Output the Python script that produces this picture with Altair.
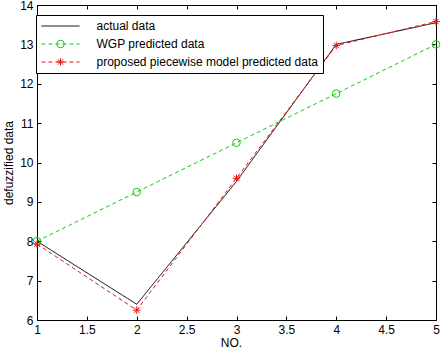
import altair as alt
import pandas as pd

# ---- data ----
nos = [1, 2, 3, 4, 5]
actual = [8.0, 6.4, 9.52, 13.0, 13.55]
wgp = [8.0, 9.25, 10.5, 11.75, 13.0]
proposed = [7.93, 6.25, 9.6, 12.97, 13.58]
series_names = ["actual data", "WGP predicted data", "proposed piecewise model predicted data"]
x_ticks = [1, 1.5, 2, 2.5, 3, 3.5, 4, 4.5, 5]
y_ticks = [6, 7, 8, 9, 10, 11, 12, 13, 14]

rows = []
for name, vals in zip(series_names, [actual, wgp, proposed]):
    for n, v in zip(nos, vals):
        rows.append({"no": n, "value": v, "series": name})
df = pd.DataFrame(rows)

font = "Liberation Sans"
colors = ["#000000", "#11cc11", "#ee1111"]
dashes = [[1, 0], [4, 3], [4, 3]]
ASTERISK = "M-1,0L1,0M0,-1L0,1M-0.7,-0.7L0.7,0.7M-0.7,0.7L0.7,-0.7"
shapes = ["M0,0", "circle", ASTERISK]

xscale = alt.Scale(domain=[1, 5], nice=False, zero=False)
yscale = alt.Scale(domain=[6, 14], nice=False, zero=False)

legend_common = dict(
    orient="none", legendX=-1, legendY=10, padding=5, symbolSize=58,
    symbolOffset=13.5, labelOffset=30, labelFontSize=12, labelFont=font,
    labelLimit=300, rowPadding=6, symbolStrokeWidth=1, title=None,
)
legA = alt.Legend(**legend_common, fillColor="white", strokeColor="black",
                  symbolType="M-5,0L5,0", labelColor="black", zindex=1)
legB = alt.Legend(**legend_common, labelOpacity=0, zindex=2)

lines = alt.Chart(df).mark_line(strokeWidth=1).encode(
    x=alt.X("no:Q", scale=xscale,
            axis=alt.Axis(orient="bottom", offset=-4, tickSize=4, values=x_ticks,
                          format="~g", labelPadding=4, labelFlush=False,
                          title="NO.", titlePadding=2, titleX=194)),
    y=alt.Y("value:Q", scale=yscale,
            axis=alt.Axis(orient="left", offset=-4, tickSize=4, values=y_ticks,
                          format="~g", labelPadding=4, title="defuzzified data",
                          titlePadding=4)),
    color=alt.Color("series:N", scale=alt.Scale(domain=series_names, range=colors),
                    legend=legA),
    strokeDash=alt.StrokeDash("series:N",
                              scale=alt.Scale(domain=series_names, range=dashes),
                              legend=legA),
)

points = alt.Chart(df).transform_filter(
    alt.FieldOneOfPredicate(field="series", oneOf=series_names[1:])
).mark_point(size=58, filled=False, strokeWidth=1, opacity=1).encode(
    x=alt.X("no:Q", scale=xscale,
            axis=alt.Axis(orient="top", offset=-4, tickSize=4, values=x_ticks,
                          labels=False, title=None)),
    y=alt.Y("value:Q", scale=yscale,
            axis=alt.Axis(orient="right", offset=-4, tickSize=4, values=y_ticks,
                          labels=False, title=None)),
    color=alt.Color("series:N", scale=alt.Scale(domain=series_names,
                                                range=["transparent", colors[1], colors[2]]),
                    legend=legB),
    shape=alt.Shape("series:N", scale=alt.Scale(domain=series_names, range=shapes),
                    legend=legB),
)

chart = alt.layer(lines, points).resolve_scale(
    color="independent", shape="independent", strokeDash="independent"
).resolve_axis(
    x="independent", y="independent"
).resolve_legend(
    color="independent", shape="independent", strokeDash="independent"
).properties(
    width=399, height=315,
    autosize=alt.AutoSizeParams(type="none"),
    padding={"left": 37, "top": 5, "right": 5, "bottom": 31},
    background="white",
).configure_view(
    stroke="black", strokeWidth=1
).configure_axis(
    labelFont=font, titleFont=font, labelFontSize=12, titleFontSize=12,
    labelColor="black", titleColor="black", tickColor="black", tickWidth=1,
    grid=False, domain=False, titleFontWeight="normal"
)

chart.save("out.html", embed_options={"renderer": "svg", "actions": False})
